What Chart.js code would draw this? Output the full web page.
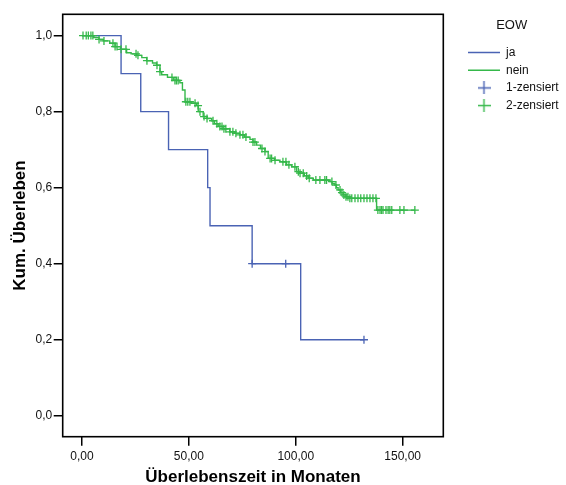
<!DOCTYPE html>
<html><head><meta charset="utf-8">
<script src="https://cdn.jsdelivr.net/npm/chart.js@4.4.1/dist/chart.umd.min.js"></script>
<style>html,body{margin:0;padding:0;background:#fff;}#wrap{width:566px;height:485px;position:relative;}</style>
</head><body><div id="wrap"><canvas id="c"></canvas></div>
<script>
// ---- data ----
const xTicks = [0, 50, 100, 150];
const yTicks = [0, 0.2, 0.4, 0.6, 0.8, 1.0];
const legendTitle = 'EOW';
const groupLabels = ['ja', 'nein'];
const censorLabels = ['1-zensiert', '2-zensiert'];
const xTitle = 'Überlebenszeit in Monaten';
const yTitle = 'Kum. Überleben';

const jaTimes = [0, 18.3, 27.5, 40.5, 58.8, 59.9, 79.6, 102.3, 131.9];
const jaSurv  = [1.0, 0.9, 0.8, 0.7, 0.6, 0.5, 0.4, 0.2, 0.2];
const jaCensTimes = [79.6, 95.3, 131.9];

const neinTimes = [0, 5.5, 8, 10, 13, 15.5, 18, 20.9, 23, 25.6, 28, 30.3, 33, 34.9, 36.5,
  37.3, 40, 42.7, 45.8, 47, 48.2, 51, 53.6, 54.4, 56.7, 58.5, 60.7, 62, 63.7, 66,
  69.2, 71.5, 73.9, 76, 78.6, 80, 81.7, 83.5, 85.6, 87.1, 90, 92.6, 95.7, 98.1, 100.4,
  101.9, 104, 105.8, 108.2, 116, 117, 118.3, 119, 119.8, 121, 122.2, 123.5, 125.3, 137.8, 155.7];
const neinSurv = [1.0, 0.995, 0.990, 0.986, 0.980, 0.971, 0.964, 0.955, 0.952, 0.948, 0.942, 0.934, 0.928, 0.922, 0.905,
  0.897, 0.890, 0.882, 0.876, 0.857, 0.826, 0.822, 0.816, 0.800, 0.787, 0.782, 0.776, 0.768, 0.761, 0.755,
  0.747, 0.743, 0.739, 0.733, 0.727, 0.720, 0.712, 0.703, 0.695, 0.677, 0.672, 0.668, 0.660, 0.655, 0.642,
  0.638, 0.631, 0.625, 0.620, 0.616, 0.611, 0.607, 0.600, 0.594, 0.587, 0.581, 0.576, 0.572, 0.541, 0.541];
const neinCensTimes = [0.5, 2, 3, 4.2, 5.1, 8, 10.3, 14.5, 15.5, 16.4, 18.3, 20.6, 25.3, 26.2, 30.4, 35.1, 36.5,
  42.1, 43.5, 44.2, 45, 48.6, 49.5, 50.5, 52.9, 54.3, 55.2, 57.1, 58.5, 61.3, 63.1, 64.5, 65.5, 66.4, 67.3,
  69.2, 70.6, 72, 73.9, 75.3, 76.7, 80, 80.9, 84.2, 85.6, 88, 88.7, 90.3, 94, 95.4, 96.8, 99.6, 101.2, 102,
  103.5, 105.1, 106.3, 109.4, 111.3, 113.6, 114.4, 116.9, 118.8, 120.7, 121.6, 122.5, 123.5, 124.4, 125.3,
  126.2, 127.7, 129.1, 130.4, 131.9, 133.3, 134.7, 136.1, 137.5, 138.4, 139.4, 140.1, 140.8, 142.2, 143.2,
  144, 144.9, 148.7, 150.6, 155.7];

// ---- helpers ----
const BLUE = '#4a63b4', GREEN = '#35b84a';
function steps(times, surv){ return times.map((t,i)=>({x:t, y:surv[i]})); }
function survAt(times, surv, t){ let s = surv[0]; for(let i=0;i<times.length;i++){ if(times[i] <= t) s = surv[i]; } return s; }
function marks(cens, times, surv){ return cens.map(t=>({x:t, y:survAt(times, surv, t)})); }
function crossImg(color){
  const c = document.createElement('canvas'); c.width = 13; c.height = 13;
  const g = c.getContext('2d'); g.strokeStyle = color; g.lineWidth = 1.4;
  g.beginPath(); g.moveTo(0, 6.5); g.lineTo(13, 6.5); g.moveTo(6.5, 0); g.lineTo(6.5, 13); g.stroke();
  return c;
}

Chart.defaults.font.family = "'Liberation Sans', Arial, sans-serif";
Chart.defaults.color = '#111';

const frame = { id:'frame', afterDatasetsDraw(chart){
  const {ctx, chartArea:a} = chart; ctx.save(); ctx.strokeStyle='#000'; ctx.lineWidth=1.6;
  ctx.strokeRect(a.left, a.top, a.right-a.left, a.bottom-a.top); ctx.restore(); } };
const legendPlace = { id:'legendPlace', afterLayout(chart){
  const lg = chart.legend; if(!lg) return;
  lg.left = 462.3; lg.width = 98.8; lg.right = lg.left + lg.width;
  lg.top = 0; lg.height = 485; lg.bottom = 485; } };

new Chart(document.getElementById('c'), {
  type: 'line',
  data: { datasets: [
    { label: groupLabels[0], data: steps(jaTimes, jaSurv), stepped: 'before', borderColor: BLUE, borderWidth: 1.4, pointRadius: 0, fill: false, order: 1 },
    { label: groupLabels[1], data: steps(neinTimes, neinSurv), stepped: 'before', borderColor: GREEN, borderWidth: 1.4, pointRadius: 0, fill: false, order: 1 },
    { label: censorLabels[0], data: marks(jaCensTimes, jaTimes, jaSurv), showLine: false, pointStyle: 'cross', pointRadius: 4, pointBorderColor: BLUE, pointBorderWidth: 1.3, borderColor: BLUE, order: 0 },
    { label: censorLabels[1], data: marks(neinCensTimes, neinTimes, neinSurv), showLine: false, pointStyle: 'cross', pointRadius: 4, pointBorderColor: GREEN, pointBorderWidth: 1.3, borderColor: GREEN, order: 0 }
  ]},
  options: {
    responsive: true, maintainAspectRatio: false, animation: false, events: [],
    layout: { padding: { top: 14.3, right: 42.7, bottom: 0, left: 0 } },
    scales: {
      x: { type: 'linear', min: -9, max: 169,
        afterBuildTicks(s){ s.ticks = xTicks.map(v=>({value:v})); },
        afterFit(s){ s.height = 48.3; },
        ticks: { font: { size: 12 }, padding: 4, color: '#111', maxRotation: 0,
          callback: v => v.toFixed(2).replace('.', ',') },
        grid: { drawOnChartArea: false, drawTicks: true, tickLength: 9, color: '#000', lineWidth: 1.5 },
        border: { display: false },
        title: { display: true, text: xTitle, font: { size: 17, weight: 'bold' }, color: '#000', padding: { top: 0, bottom: -3 } }
      },
      y: { type: 'linear', min: -0.055, max: 1.056,
        afterBuildTicks(s){ s.ticks = yTicks.map(v=>({value:v})); },
        afterFit(s){ s.width = 62.7; },
        ticks: { font: { size: 12 }, padding: 1.5, color: '#111',
          callback: v => v.toFixed(1).replace('.', ',') },
        grid: { drawOnChartArea: false, drawTicks: true, tickLength: 9, color: '#000', lineWidth: 1.5 },
        border: { display: false },
        title: { display: true, text: yTitle, font: { size: 17, weight: 'bold' }, color: '#000', padding: { top: 9.8, bottom: 0 } }
      }
    },
    plugins: {
      tooltip: { enabled: false },
      legend: { display: true, position: 'right', align: 'start', maxWidth: 80,
        title: { display: true, text: legendTitle, position: 'center', color: '#111', font: { size: 13 }, padding: { top: 18.5, bottom: 6.7 } },
        labels: { usePointStyle: true, pointStyleWidth: 32, boxHeight: 8, padding: 5.7, color: '#111', font: { size: 12 },
          generateLabels(chart){
            return chart.data.datasets.map((ds,i)=>{
              const isCens = ds.showLine === false;
              const col = isCens ? ds.pointBorderColor : ds.borderColor;
              return {
                text: ds.label, datasetIndex: i, hidden: false,
                fillStyle: 'rgba(0,0,0,0)', strokeStyle: col, lineWidth: 1.4,
                pointStyle: isCens ? crossImg(col) : 'line',
                fontColor: '#111'
              };
            });
          }
        }
      }
    }
  },
  plugins: [frame, legendPlace]
});
</script>
</body></html>
